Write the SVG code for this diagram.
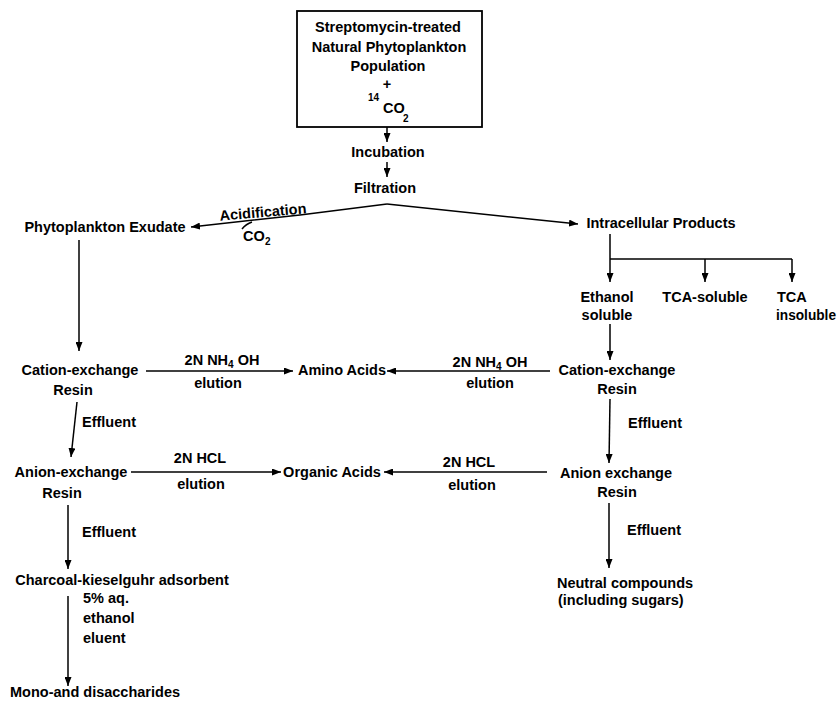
<svg xmlns="http://www.w3.org/2000/svg" width="840" height="702" viewBox="0 0 840 702">
<defs>
<marker id="ah" markerUnits="userSpaceOnUse" markerWidth="9" markerHeight="7" refX="9" refY="3.5" orient="auto">
<path d="M0,0 L9,3.5 L0,7 z" fill="#000"/>
</marker>
<style>
text{font-family:"Liberation Sans",Arial,sans-serif;font-size:14.5px;font-weight:bold;fill:#000}
.m{text-anchor:middle}
.sub{font-size:10px}
line,path.c,polyline{stroke:#000;stroke-width:1.5;fill:none}
.a{marker-end:url(#ah)}
</style>
</defs>
<rect width="840" height="702" fill="#fff"/>

<g id="source">
<rect x="297" y="11" width="185" height="116" fill="none" stroke="#000" stroke-width="1.8"/>
<text class="m" x="388" y="32">Streptomycin-treated</text>
<text class="m" x="389" y="52">Natural Phytoplankton</text>
<text class="m" x="388" y="71">Population</text>
<text class="m" x="387" y="89">+</text>
<text x="368" y="101" class="sub">14</text>
<text x="383" y="113">CO</text>
<text x="403" y="122" class="sub">2</text>
</g>
<g id="incubation"><text class="m" x="388" y="157">Incubation</text></g>
<g id="filtration"><text class="m" x="385" y="193">Filtration</text></g>
<g id="exudate"><text class="m" x="105" y="232">Phytoplankton Exudate</text></g>
<g id="intracellular"><text class="m" x="661" y="228">Intracellular Products</text></g>
<g id="ethanol-soluble"><text class="m" x="607" y="302">Ethanol</text><text class="m" x="607" y="320">soluble</text></g>
<g id="tca-soluble"><text class="m" x="705" y="302">TCA-soluble</text></g>
<g id="tca-insoluble"><text x="777" y="302">TCA</text><text x="776" y="320" textLength="60" lengthAdjust="spacingAndGlyphs">insoluble</text></g>
<g id="cation-left"><text class="m" x="80" y="375">Cation-exchange</text><text class="m" x="73" y="395">Resin</text></g>
<g id="amino-acids"><text class="m" x="342" y="375">Amino Acids</text></g>
<g id="cation-right"><text class="m" x="617" y="375">Cation-exchange</text><text class="m" x="617" y="394">Resin</text></g>
<g id="anion-left"><text class="m" x="71" y="477">Anion-exchange</text><text class="m" x="62" y="498">Resin</text></g>
<g id="organic-acids"><text class="m" x="332" y="477">Organic Acids</text></g>
<g id="anion-right"><text class="m" x="616" y="478">Anion exchange</text><text class="m" x="617" y="497">Resin</text></g>
<g id="charcoal"><text class="m" x="122" y="585">Charcoal-kieselguhr adsorbent</text></g>
<g id="neutral"><text class="m" x="625" y="588">Neutral compounds</text><text x="558" y="605">(including sugars)</text></g>
<g id="mono-di"><text x="10" y="697">Mono-and disaccharides</text></g>

<g id="connectors">
<line class="a" x1="387" y1="127" x2="387" y2="142"/>
<line class="a" x1="387" y1="162" x2="387" y2="177"/>
<polyline class="a" points="387,204 300,215 191,227"/>
<line class="a" x1="387" y1="204" x2="578" y2="224"/>
<path class="c" d="M242,229 Q246,224 252,222"/>
<line class="a" x1="79" y1="240" x2="79" y2="351"/>
<line x1="610" y1="234" x2="610" y2="259"/>
<line x1="610" y1="259" x2="792" y2="259"/>
<line class="a" x1="610" y1="259" x2="610" y2="282"/>
<line class="a" x1="705" y1="259" x2="705" y2="282"/>
<line class="a" x1="792" y1="259" x2="792" y2="282"/>
<line class="a" x1="610" y1="324" x2="610" y2="360"/>
<line class="a" x1="146" y1="371" x2="293" y2="371"/>
<line class="a" x1="550" y1="371" x2="387" y2="371"/>
<line class="a" x1="77" y1="402" x2="71" y2="457"/>
<line class="a" x1="610" y1="399" x2="609" y2="463"/>
<line class="a" x1="131" y1="472" x2="281" y2="472"/>
<line class="a" x1="547" y1="472" x2="384" y2="472"/>
<line class="a" x1="68" y1="505" x2="68" y2="569"/>
<line class="a" x1="609" y1="503" x2="609" y2="568"/>
<line class="a" x1="68" y1="596" x2="68" y2="686"/>
</g>

<g id="labels">
<text class="m" x="263" y="217" transform="rotate(-5 263 212)">Acidification</text>
<text x="243" y="241">CO</text><text x="265" y="245" class="sub">2</text>
<text class="m" x="222" y="365">2N NH<tspan class="sub" dy="3">4</tspan><tspan dy="-3"> OH</tspan></text>
<text class="m" x="218" y="388">elution</text>
<text class="m" x="490" y="367">2N NH<tspan class="sub" dy="3">4</tspan><tspan dy="-3"> OH</tspan></text>
<text class="m" x="490" y="388">elution</text>
<text x="82" y="427">Effluent</text>
<text x="628" y="428">Effluent</text>
<text class="m" x="200" y="463">2N HCL</text>
<text class="m" x="201" y="489">elution</text>
<text class="m" x="469" y="467">2N HCL</text>
<text class="m" x="472" y="490">elution</text>
<text x="82" y="537">Effluent</text>
<text x="627" y="535">Effluent</text>
<text x="83" y="603">5% aq.</text>
<text x="83" y="623">ethanol</text>
<text x="83" y="643">eluent</text>
</g>
</svg>
